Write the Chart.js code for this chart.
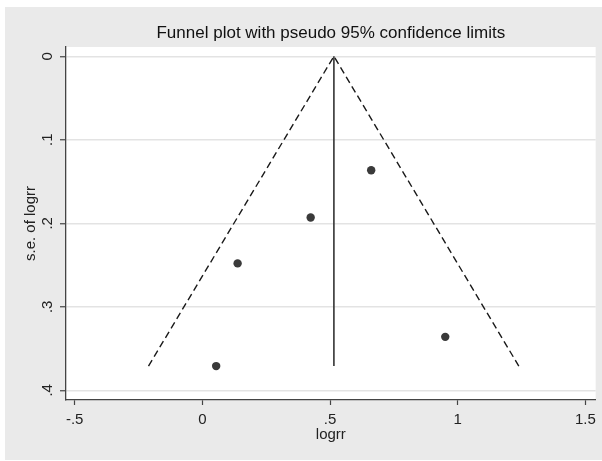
<!DOCTYPE html>
<html>
<head>
<meta charset="utf-8">
<script src="https://cdn.jsdelivr.net/npm/chart.js@4.4.1/dist/chart.umd.min.js"></script>
<style>
  html, body { margin: 0; padding: 0; background: #ffffff; }
  #wrap { width: 602px; height: 461px; }
</style>
</head>
<body>
<div id="wrap"><canvas id="c" width="602" height="461"></canvas></div>
<script>
// ---- data ----
const studyLogrr = [0.054, 0.138, 0.424, 0.661, 0.951];
const studySe    = [0.371, 0.248, 0.193, 0.1365, 0.336];
const funnelX    = [-0.211, 0.515, 1.239];
const funnelY    = [0.371, 0, 0.371];
const pooledX    = [0.515, 0.515];
const pooledY    = [0, 0.371];
const xTickValues = [-0.5, 0, 0.5, 1, 1.5];
const xTickLabels = ['-.5', '0', '.5', '1', '1.5'];
const yTickValues = [0, 0.1, 0.2, 0.3, 0.4];
const yTickLabels = ['0', '.1', '.2', '.3', '.4'];
const chartTitle = 'Funnel plot with pseudo 95% confidence limits';
const xTitle = 'logrr';
const yTitle = 's.e. of logrr';

const FONT = '"Liberation Sans", Arial, sans-serif';

const pts = (xs, ys) => xs.map((x, i) => ({ x: x, y: ys[i] }));

const bgPlugin = {
  id: 'bg',
  beforeDraw(chart) {
    const ctx = chart.ctx;
    const a = chart.chartArea;
    ctx.save();
    ctx.fillStyle = '#ffffff';
    ctx.fillRect(0, 0, chart.width, chart.height);
    ctx.fillStyle = '#eaeaea';
    ctx.fillRect(5, 7, chart.width - 5, 453);
    ctx.fillStyle = '#ffffff';
    ctx.fillRect(a.left, a.top, a.right - a.left, a.bottom - a.top);
    ctx.restore();
  }
};

// title centred over the plot region (as Stata does)
const plotTitlePlugin = {
  id: 'plotTitle',
  afterDraw(chart) {
    const ctx = chart.ctx;
    const a = chart.chartArea;
    ctx.save();
    ctx.fillStyle = '#111111';
    ctx.font = '17px ' + FONT;
    ctx.textAlign = 'center';
    ctx.textBaseline = 'middle';
    ctx.fillText(chartTitle, (a.left + a.right) / 2, 33);
    ctx.restore();
  }
};

new Chart(document.getElementById('c'), {
  type: 'scatter',
  data: {
    datasets: [
      {
        label: 'funnel',
        data: pts(funnelX, funnelY),
        showLine: true,
        borderColor: '#1a1a1a',
        borderWidth: 1.4,
        borderDash: [7, 4],
        pointRadius: 0,
        fill: false,
        order: 3
      },
      {
        label: 'pooled',
        data: pts(pooledX, pooledY),
        showLine: true,
        borderColor: '#333333',
        borderWidth: 1.6,
        pointRadius: 0,
        fill: false,
        order: 2
      },
      {
        label: 'studies',
        data: pts(studyLogrr, studySe),
        showLine: false,
        pointRadius: 4.2,
        pointBackgroundColor: '#3a3a3a',
        pointBorderColor: '#3a3a3a',
        pointBorderWidth: 0,
        order: 1
      }
    ]
  },
  options: {
    responsive: false,
    animation: false,
    devicePixelRatio: 1,
    layout: { padding: { left: 5, right: 6, top: 47, bottom: 1 } },
    plugins: {
      legend: { display: false },
      tooltip: { enabled: false },
      title: { display: false }
    },
    scales: {
      x: {
        type: 'linear',
        position: 'bottom',
        min: -0.534,
        max: 1.540,
        afterFit(scale) { scale.height = 60; },
        afterBuildTicks(scale) { scale.ticks = xTickValues.map(v => ({ value: v })); },
        ticks: {
          color: '#222222',
          font: { family: FONT, size: 15 },
          padding: 6,
          autoSkip: false,
          maxRotation: 0,
          callback(value) { const i = xTickValues.indexOf(value); return i >= 0 ? xTickLabels[i] : ''; }
        },
        grid: {
          drawOnChartArea: false,
          drawTicks: true,
          tickLength: 5,
          tickColor: '#444444',
          tickWidth: 1.2
        },
        border: { display: true, color: '#444444', width: 1.3 },
        title: {
          display: true,
          text: xTitle,
          color: '#222222',
          font: { family: FONT, size: 15, lineHeight: 1.2 },
          padding: { top: 0, bottom: 16 }
        }
      },
      y: {
        type: 'linear',
        position: 'left',
        reverse: true,
        min: -0.0111,
        max: 0.4116,
        afterFit(scale) { scale.width = 61; },
        afterBuildTicks(scale) { scale.ticks = yTickValues.map(v => ({ value: v })); },
        ticks: {
          color: '#222222',
          font: { family: FONT, size: 15 },
          padding: 6,
          autoSkip: false,
          minRotation: 90,
          maxRotation: 90,
          crossAlign: 'center',
          callback(value) { const i = yTickValues.indexOf(value); return i >= 0 ? yTickLabels[i] : ''; }
        },
        grid: {
          drawOnChartArea: true,
          color: '#e3e3e3',
          lineWidth: 1.5,
          drawTicks: true,
          tickLength: 6,
          tickColor: '#444444',
          tickWidth: 1.2
        },
        border: { display: true, color: '#444444', width: 1.3 },
        title: {
          display: true,
          text: yTitle,
          color: '#222222',
          font: { family: FONT, size: 15, lineHeight: 1.2 },
          padding: { top: 17, bottom: 0 }
        }
      }
    }
  },
  plugins: [bgPlugin, plotTitlePlugin]
});
</script>
</body>
</html>
